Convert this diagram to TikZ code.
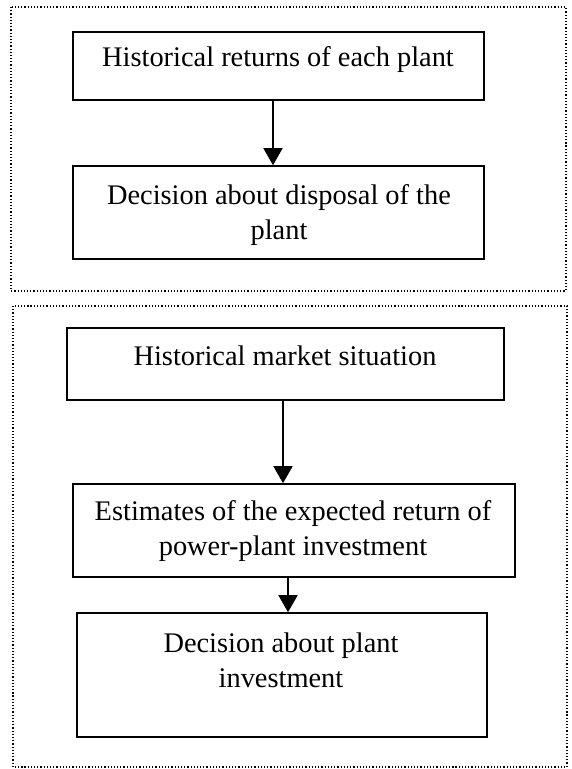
\documentclass[tikz,border=0pt]{standalone}
\usepackage{fontspec}
\setmainfont{Liberation Serif}
\usetikzlibrary{arrows.meta}

\begin{document}
\begin{tikzpicture}[x=1bp, y=-1bp, font=\fontsize{28.5}{35}\selectfont]
        \tikzstyle{group}=[draw=black, line width=1.2bp, dotted]
        \tikzstyle{box}=[rectangle, draw=black, line width=1.6bp, inner sep=0pt]
        \tikzstyle{txt}=[anchor=base, align=center, inner sep=0pt]
        \tikzstyle{flow}=[->, >={Triangle[length=17bp, width=19bp]}, line width=1.6bp]

        \useasboundingbox (0,0) rectangle (572,769);

        % dotted frames
        \draw[group] (11,7) rectangle (566,291);
        \draw[group] (13,306) rectangle (567,767);

        % first part
        \node[box, minimum width=411bp, minimum height=68bp] (B1) at (278.5,66) {};
        \node[box, minimum width=411bp, minimum height=93bp] (B2) at (278.5,212.5) {};
        \node[txt] (T1) at (278,67) {Historical returns of each plant};
        \node[txt] (T2) at (279,239) {Decision about disposal of the\\plant};

        % second part
        \node[box, minimum width=437bp, minimum height=72bp] (B3) at (285.5,364) {};
        \node[box, minimum width=442bp, minimum height=93bp] (B4) at (294,530.5) {};
        \node[box, minimum width=410bp, minimum height=124bp] (B5) at (282,675) {};
        \node[txt] (T3) at (285,365) {Historical market situation};
        \node[txt] (T4) at (293,555) {Estimates of the expected return of\\power-plant investment};
        \node[txt] (T5) at (281,687) {Decision about plant\\investment};

        \draw[flow] ([xshift=-5.5bp]B1.south) -- ([xshift=-5.5bp]B2.north);
        \draw[flow] ([xshift=-2.5bp]B3.south) -- ([xshift=-11bp]B4.north);
        \draw[flow] ([xshift=-6bp]B4.south) -- ([xshift=6bp]B5.north);
\end{tikzpicture}
\end{document}
